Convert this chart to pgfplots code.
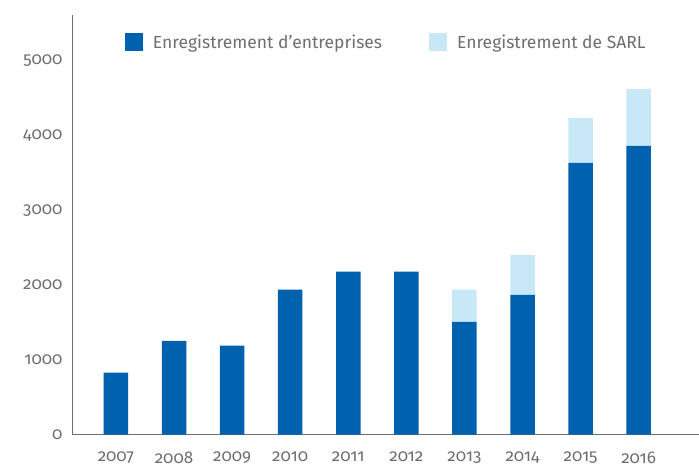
\documentclass[border=0pt]{standalone}
\usepackage{pgfplots}
\pgfplotsset{compat=1.18}
\usepackage{fontspec}
\setmainfont{Fira Sans}[Numbers=OldStyle]
\definecolor{darkblue}{HTML}{0061AF}
\definecolor{lightblue}{HTML}{C8E8F8}
\definecolor{txtgray}{HTML}{6D6E71}
\begin{document}
\begin{tikzpicture}
\begin{axis}[
  scale only axis, width=626pt, height=420pt,
  ybar stacked, bar width=24.5pt,
  xmin=-0.74, xmax=10.03, ymin=0, ymax=5615,
  axis x line=bottom, axis y line=left,
  axis line style={txtgray, line width=1pt, -},
  xtick={0,...,9},
  xticklabels={2007,2008,2009,2010,2011,2012,2013,2014,2015,2016},
  ytick={0,1000,...,5000},
  major tick length=0pt,
  tick label style={txtgray, font=\fontsize{17}{20}\selectfont},
  /pgf/number format/assume math mode=true,
  /pgf/number format/1000 sep={},
  yticklabel style={xshift=-7pt},
  xticklabel style={yshift=-14pt},
  legend style={draw=none, fill=none, at={(rel axis cs:0.078,0.963)},
    anchor=north west, legend columns=2,
    font=\fontsize{17.5}{20}\selectfont, text=txtgray,
    /tikz/every odd column/.append style={column sep=8pt},
    /tikz/every even column/.append style={column sep=45pt}},
  legend image code/.code={\fill[#1] (0pt,-9pt) rectangle (18pt,9pt);},
]
\addplot+[fill=darkblue, draw=none] coordinates {
  (0,830) (1,1255) (2,1190) (3,1940) (4,2180) (5,2180) (6,1510) (7,1870) (8,3635) (9,3865)};
\addlegendentry{Enregistrement d'entreprises}
\addplot+[fill=lightblue, draw=none] coordinates {
  (0,0) (1,0) (2,0) (3,0) (4,0) (5,0) (6,430) (7,535) (8,600) (9,760)};
\addlegendentry{Enregistrement de SARL}
\end{axis}
\path[use as bounding box] (current axis.south west) ++(-73pt,-31pt) rectangle ([yshift=15pt]current axis.north east);
\end{tikzpicture}
\end{document}
